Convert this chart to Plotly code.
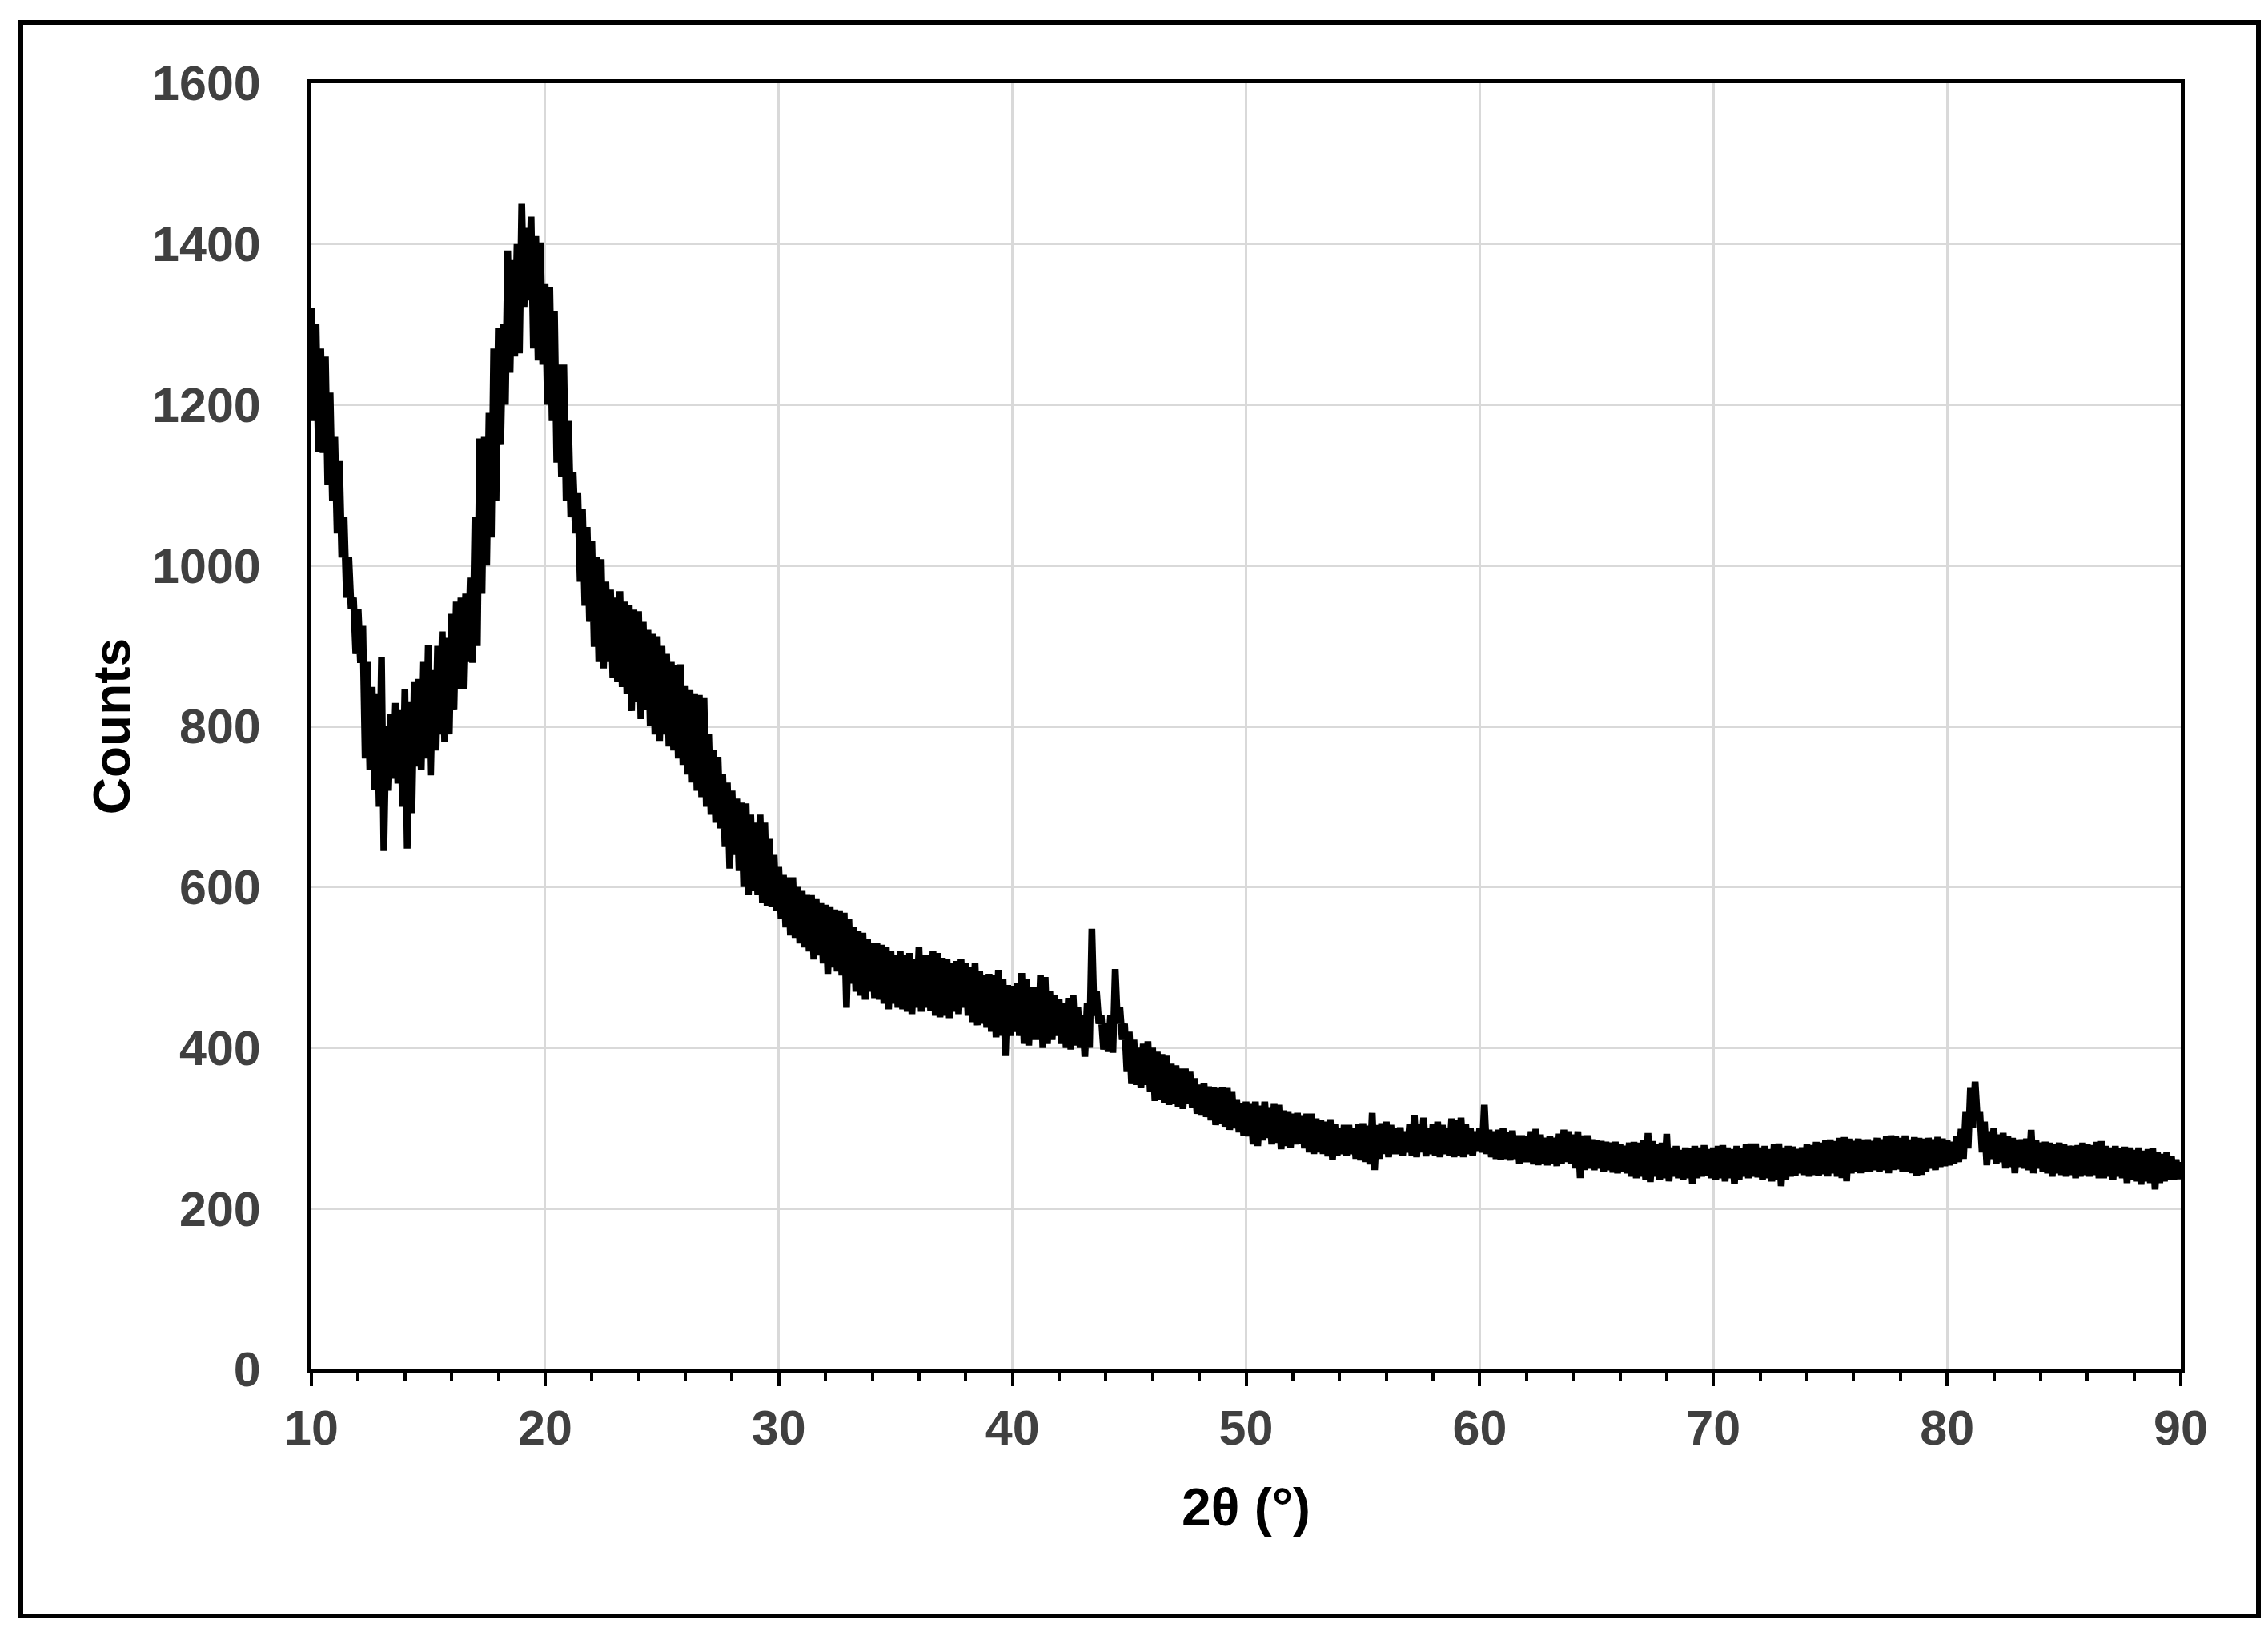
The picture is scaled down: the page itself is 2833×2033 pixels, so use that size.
import plotly.graph_objects as go

# XRD scan: 2theta grid starts at 10 deg, readings every 0.2 deg (upper and lower edge of the noisy trace)
scan_start = 10.0
scan_step = 0.2

counts_upper = [
    1320, 1300, 1270, 1260, 1215, 1160, 1130, 1060, 1011, 960,
    946, 925, 880, 849, 840, 886, 800, 815, 829, 820,
    846, 830, 855, 859, 880, 901, 870, 900, 918, 910,
    940, 955, 960, 965, 985, 1060, 1158, 1160, 1190, 1270,
    1295, 1300, 1392, 1380, 1400, 1450, 1420, 1434, 1410, 1402,
    1350, 1347, 1317, 1250, 1250, 1180, 1116, 1090, 1070, 1048,
    1030, 1010, 1008, 980, 970, 960, 968, 955, 951, 945,
    943, 930, 920, 915, 912, 900, 890, 880, 876, 877,
    850, 845, 840, 839, 835, 790, 770, 762, 740, 730,
    720, 710, 705, 704, 690, 680, 690, 680, 660, 640,
    625, 615, 612, 612, 600, 595, 590, 590, 585, 580,
    578, 575, 572, 570, 568, 560, 550, 545, 543, 535,
    530, 530, 528, 525, 520, 515, 520, 515, 518, 510,
    525, 515, 515, 520, 518, 512, 510, 505, 508, 510,
    505, 500, 505, 495, 490, 492, 490, 497, 485, 478,
    477, 480, 493, 485, 475, 475, 490, 488, 470, 465,
    460, 455, 462, 465, 450, 440, 455, 548, 470, 440,
    430, 440, 498, 450, 430, 420, 410, 400, 405, 408,
    400, 395, 392, 390, 380, 378, 374, 374, 370, 362,
    354, 356, 352, 351, 350, 351, 350, 345, 335, 331,
    333, 330, 333, 328, 333, 325, 330, 329, 322, 320,
    318, 319, 315, 318, 318, 312, 310, 308, 311, 305,
    300, 304, 304, 300, 305, 306, 303, 319, 304, 306,
    308, 304, 300, 301, 296, 305, 316, 305, 313, 300,
    305, 308, 304, 300, 312, 310, 313, 305, 300, 296,
    300, 329, 298, 296, 298, 300, 295, 297, 291, 291,
    290, 296, 299, 292, 288, 290, 288, 293, 298, 296,
    292, 296, 291, 291, 286, 285, 284, 283, 282, 283,
    280, 278, 282, 283, 282, 285, 294, 284, 280, 282,
    293, 276, 278, 273, 276, 275, 278, 276, 279, 274,
    276, 278, 279, 276, 274, 278, 275, 280, 281, 281,
    276, 278, 274, 280, 281, 276, 278, 277, 274, 276,
    280, 279, 283, 282, 285, 286, 284, 288, 289, 287,
    284, 287, 286, 286, 284, 288, 286, 290, 291, 290,
    288, 291, 286, 289, 288, 287, 288, 286, 289, 287,
    285, 283, 290, 299, 320, 350, 358, 320, 308, 296,
    300, 292, 294, 290, 288, 286, 286, 287, 298, 285,
    282, 283, 282, 280, 282, 280, 278, 278, 279, 282,
    280, 279, 283, 284, 278, 276, 278, 275, 277, 276,
    273, 276, 272, 274, 275, 270, 268, 270, 265, 261,
    258,
]

counts_lower = [
    1180, 1141, 1140, 1100, 1080, 1040, 1010, 960, 946, 890,
    879, 760, 746, 721, 700, 645, 720, 735, 729, 700,
    648, 692, 750, 746, 760, 739, 770, 790, 781, 790,
    820, 846, 846, 880, 879, 900, 965, 1000, 1035, 1080,
    1150, 1200, 1240, 1260, 1264, 1322, 1330, 1270, 1255, 1250,
    1200, 1180, 1128, 1110, 1080, 1060, 1040, 980, 950, 930,
    899, 880, 872, 880, 860, 855, 849, 840, 819, 830,
    809, 820, 800, 790, 782, 790, 775, 770, 760, 752,
    740, 730, 720, 712, 700, 690, 680, 673, 650, 623,
    640, 620, 600, 590, 595, 590, 580, 577, 575, 570,
    560, 550, 540, 537, 530, 525, 520, 510, 515, 505,
    492, 500, 495, 490, 450, 480, 470, 465, 460, 470,
    462, 460, 455, 448, 455, 450, 448, 445, 442, 450,
    445, 450, 446, 440, 438, 440, 437, 445, 442, 450,
    440, 432, 428, 430, 425, 420, 413, 415, 390, 415,
    420, 415, 405, 403, 410, 410, 400, 405, 410, 415,
    405, 400, 398, 403, 400, 389, 400, 440, 430, 398,
    395, 394, 430, 410, 370, 355, 354, 350, 354, 345,
    334, 335, 332, 329, 330, 326, 324, 330, 325, 318,
    316, 314, 310, 304, 306, 302, 298, 300, 295, 291,
    290, 280, 278, 285, 288, 280, 282, 274, 278, 276,
    280, 281, 275, 270, 268, 270, 268, 265, 261, 266,
    268, 266, 268, 262, 260, 258, 255, 248, 262, 268,
    264, 268, 268, 266, 270, 266, 264, 270, 265, 268,
    266, 264, 268, 266, 264, 266, 264, 268, 266, 272,
    270, 268, 264, 262, 261, 262, 260, 262, 256, 258,
    258, 255, 254, 256, 254, 256, 253, 256, 258, 256,
    250, 238, 248, 250, 248, 250, 246, 248, 245, 244,
    246, 244, 240, 238, 240, 236, 233, 240, 236, 238,
    234, 240, 238, 236, 238, 231, 238, 240, 241, 238,
    236, 238, 234, 238, 231, 236, 240, 238, 240, 239,
    236, 238, 234, 236, 228, 236, 240, 241, 244, 242,
    240, 242, 241, 243, 240, 244, 240, 238, 234, 244,
    246, 244, 246, 246, 248, 246, 248, 244, 248, 249,
    246, 246, 244, 241, 242, 246, 250, 248, 252, 253,
    254, 256, 258, 262, 275, 300, 310, 270, 254, 262,
    256, 258, 250, 252, 244, 252, 250, 248, 244, 250,
    246, 244, 240, 244, 242, 240, 242, 238, 240, 242,
    240, 242, 238, 238, 240, 236, 240, 238, 232, 236,
    234, 230, 234, 232, 224, 232, 234, 236, 236, 237,
    240,
]

x_tick_values = [10, 20, 30, 40, 50, 60, 70, 80, 90]
y_tick_values = [0, 200, 400, 600, 800, 1000, 1200, 1400, 1600]

# Build the trace: each grid point gives its upper reading, then the lower reading half a step later
two_theta = []
counts = []
for i, (hi, lo) in enumerate(zip(counts_upper, counts_lower)):
    x0 = scan_start + i * scan_step
    two_theta.append(round(x0, 3))
    counts.append(hi)
    if i < len(counts_upper) - 1:
        two_theta.append(round(x0 + scan_step / 2, 3))
        counts.append(lo)

FONT = "Arial, Liberation Sans, sans-serif"
W, H = 2833, 2033
L, R, T, B = 381, 117, 96, 331
pw, ph = W - L - R, H - T - B

fig = go.Figure()
fig.add_trace(go.Scatter(
    x=two_theta, y=counts, mode="lines",
    line=dict(color="black", width=8.5),
    showlegend=False, hoverinfo="skip",
))

axis_common = dict(
    showline=True, linecolor="black", linewidth=5, mirror=True,
    showgrid=True, gridcolor="#d9d9d9", gridwidth=3,
    zeroline=False,
    tickfont=dict(family=FONT, size=61, color="#404040", weight="bold"),
)

fig.update_xaxes(
    range=[10, 90], tickvals=x_tick_values,
    ticks="outside", ticklen=16, tickwidth=4, tickcolor="black",
    minor=dict(dtick=2, tick0=10, ticks="outside", ticklen=10, tickwidth=4,
               tickcolor="black", showgrid=False),
    title=dict(text="2θ (°)", font=dict(family=FONT, size=66, color="black", weight="bold"),
               standoff=44),
    **axis_common,
)
fig.update_yaxes(
    range=[0, 1600], tickvals=y_tick_values, ticks="",
    ticklabelstandoff=46,
    title=dict(text="Counts", font=dict(family=FONT, size=64, color="black", weight="bold"),
               standoff=8),
    **axis_common,
)

# outer frame around the whole figure
fx0 = (18 - L) / pw
fx1 = (2813 - L) / pw
fy0 = (H - B - 2010) / ph
fy1 = (H - B - 20) / ph
fig.add_shape(type="rect", xref="paper", yref="paper",
              x0=fx0, x1=fx1, y0=fy0, y1=fy1,
              line=dict(color="black", width=6), fillcolor="rgba(0,0,0,0)", layer="above")

fig.update_layout(
    width=W, height=H,
    margin=dict(l=L, r=R, t=T, b=B, autoexpand=False),
    paper_bgcolor="white", plot_bgcolor="white",
    font=dict(family=FONT),
)

fig.write_html("out.html")
